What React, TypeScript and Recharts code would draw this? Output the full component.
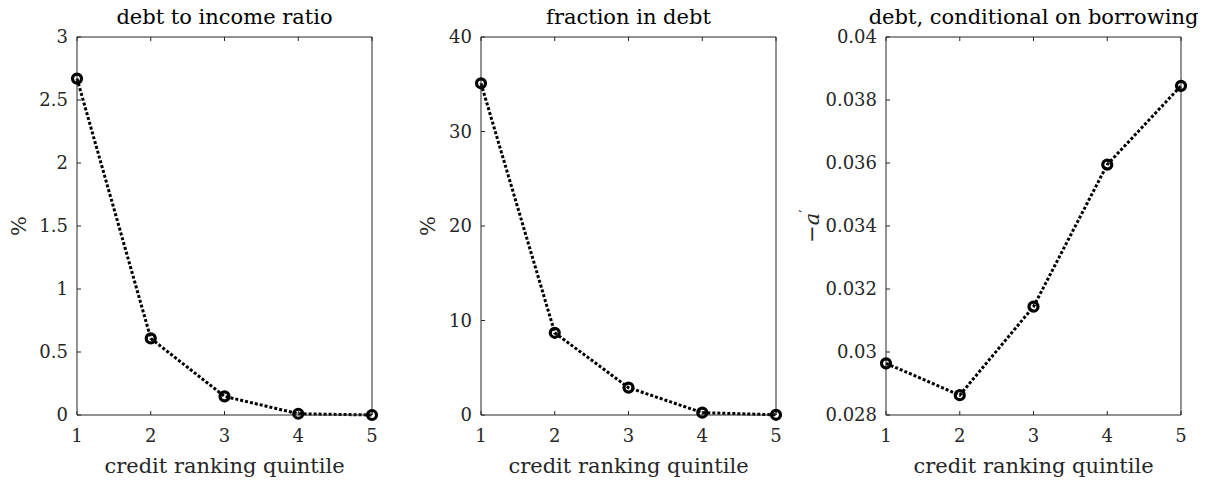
import React from "react";
import { LineChart, Line, XAxis, YAxis } from "recharts";

const quintiles = [1, 2, 3, 4, 5];
const debtToIncome = [2.67, 0.608, 0.148, 0.01, 0.0];
const fractionInDebt = [35.1, 8.7, 2.9, 0.25, 0.02];
const debtIfBorrowing = [0.02964, 0.02863, 0.03144, 0.03595, 0.03845];

const ticksDti = [0, 0.5, 1, 1.5, 2, 2.5, 3];
const ticksFrac = [0, 10, 20, 30, 40];
const ticksCond = [0.028, 0.03, 0.032, 0.034, 0.036, 0.038, 0.04];
const tickLabelsCond = ["0.028", "0.03", "0.032", "0.034", "0.036", "0.038", "0.04"];

const FONT = "'DejaVu Serif', serif";
const AXIS = "#262626";

// plot box (page coords)
const PLOT_TOP = 37;
const PLOT_BOTTOM = 415;
const PLOT_W = 295;
const LEFT_AXIS_W = 100;
const CHART_W = LEFT_AXIS_W + PLOT_W + 28;
const CHART_H = 481;

const toRows = (ys: number[]) => quintiles.map((q, i) => ({ q, v: ys[i] }));

const YTitle = (props: any) => {
  const { viewBox, dist, children } = props;
  const cx = viewBox.x + viewBox.width - dist;
  const cy = viewBox.y + viewBox.height / 2;
  return (
    <text
      x={cx}
      y={cy}
      transform={`rotate(-90, ${cx}, ${cy})`}
      textAnchor="middle"
      dominantBaseline="central"
      fontFamily={FONT}
      fontSize={21}
      fill={AXIS}
    >
      {children}
    </text>
  );
};

interface PanelProps {
  plotLeft: number;
  title: string;
  values: number[];
  yTicks: number[];
  yDomain: [number, number];
  yFormat?: (v: number) => string;
  yLabel: React.ReactNode;
  yLabelDist: number;
}

const Panel = ({
  plotLeft,
  title,
  values,
  yTicks,
  yDomain,
  yFormat,
  yLabel,
  yLabelDist,
}: PanelProps) => {
  const data = toRows(values);
  const blank = () => "";
  return (
    <>
      <div
        style={{
          position: "absolute",
          left: plotLeft - 60,
          width: PLOT_W + 120,
          top: 7,
          lineHeight: "20px",
          textAlign: "center",
          whiteSpace: "nowrap",
          fontFamily: FONT,
          fontSize: 21,
          color: "#000",
        }}
      >
        {title}
      </div>
      <div style={{ position: "absolute", left: plotLeft - LEFT_AXIS_W, top: 0 }}>
        <LineChart
          width={CHART_W}
          height={CHART_H}
          data={data}
          margin={{ top: PLOT_TOP - 1, right: CHART_W - LEFT_AXIS_W - PLOT_W - 1, bottom: 0, left: 0 }}
        >
          <XAxis
            xAxisId="b"
            dataKey="q"
            type="number"
            domain={[1, 5]}
            ticks={quintiles}
            height={CHART_H - PLOT_BOTTOM}
            stroke={AXIS}
            tickSize={-4}
            tickMargin={18}
            tick={{ fill: AXIS, fontFamily: FONT, fontSize: 18 }}
            label={{
              value: "credit ranking quintile",
              position: "insideBottom",
              offset: 8,
              fill: AXIS,
              fontFamily: FONT,
              fontSize: 21,
            }}
          />
          <XAxis
            xAxisId="t"
            orientation="top"
            dataKey="q"
            type="number"
            domain={[1, 5]}
            ticks={quintiles}
            height={1}
            stroke={AXIS}
            tickSize={-4}
            tickFormatter={blank}
          />
          <YAxis
            yAxisId="l"
            type="number"
            domain={yDomain}
            ticks={yTicks}
            width={LEFT_AXIS_W}
            stroke={AXIS}
            tickSize={-4}
            tickMargin={13}
            tickFormatter={yFormat}
            tick={{ fill: AXIS, fontFamily: FONT, fontSize: 18 }}
            label={<YTitle dist={yLabelDist}>{yLabel}</YTitle>}
          />
          <YAxis
            yAxisId="r"
            orientation="right"
            type="number"
            domain={yDomain}
            ticks={yTicks}
            width={1}
            stroke={AXIS}
            tickSize={-4}
            tickFormatter={blank}
          />
          <Line
            xAxisId="b"
            yAxisId="l"
            dataKey="v"
            type="linear"
            stroke="#000"
            strokeWidth={3}
            strokeDasharray="3 2"
            dot={{ r: 4.5, stroke: "#000", strokeWidth: 3.2, fill: "none", strokeDasharray: "" }}
            activeDot={false}
            isAnimationActive={false}
          />
        </LineChart>
      </div>
    </>
  );
};

const App = () => (
  <div
    style={{
      position: "absolute",
      left: 0,
      top: 0,
      width: 1209,
      height: 481,
      background: "#fff",
      overflow: "hidden",
    }}
  >
    <Panel
      plotLeft={77}
      title="debt to income ratio"
      values={debtToIncome}
      yTicks={ticksDti}
      yDomain={[0, 3]}
      yLabel="%"
      yLabelDist={58}
    />
    <Panel
      plotLeft={481}
      title="fraction in debt"
      values={fractionInDebt}
      yTicks={ticksFrac}
      yDomain={[0, 40]}
      yLabel="%"
      yLabelDist={53}
    />
    <Panel
      plotLeft={886}
      title="debt, conditional on borrowing"
      values={debtIfBorrowing}
      yTicks={ticksCond}
      yDomain={[0.028, 0.04]}
      yFormat={(v: number) => tickLabelsCond[ticksCond.indexOf(v)] ?? String(v)}
      yLabel={
        <>
          −<tspan fontStyle="italic">a</tspan>
          <tspan dy={-7} fontSize={15}>′</tspan>
        </>
      }
      yLabelDist={74}
    />
  </div>
);

export default App;
